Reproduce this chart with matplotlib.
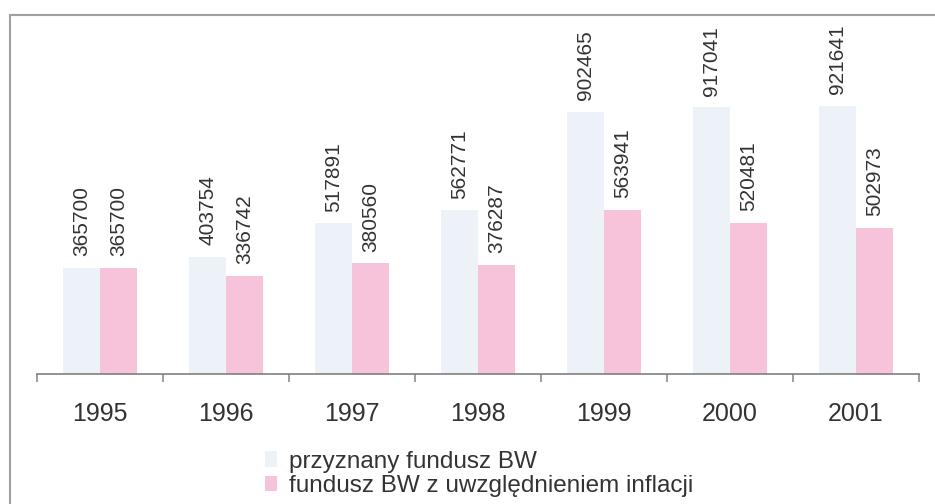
import matplotlib.pyplot as plt
import numpy as np
from matplotlib.patches import Rectangle

years = ["1995", "1996", "1997", "1998", "1999", "2000", "2001"]
granted = [365700, 403754, 517891, 562771, 902465, 917041, 921641]
inflation_adj = [365700, 336742, 380560, 376287, 563941, 520481, 502973]
series_names = ["przyznany fundusz BW", "fundusz BW z uwzględnieniem inflacji"]

plt.rcParams["font.family"] = ["Liberation Sans", "DejaVu Sans"]
text_color = "#333333"

fig = plt.figure(figsize=(9.35, 5.04), dpi=100)
ax = fig.add_axes([37 / 935, 130 / 504, 882 / 935, 359 / 504])

x = np.arange(len(years))
w = 0.293
b1 = ax.bar(x - w / 2, granted, w, color="#edf1f8", label=series_names[0])
b2 = ax.bar(x + w / 2, inflation_adj, w, color="#f6c3db", label=series_names[1])

for bars in (b1, b2):
    for rect in bars:
        h = rect.get_height()
        ax.annotate(f"{int(h)}", (rect.get_x() + rect.get_width() / 2, h),
                    xytext=(0, 8.5), textcoords="offset points",
                    rotation=90, ha="center", va="bottom",
                    fontsize=15, color=text_color)

ax.set_xlim(-0.5, len(years) - 0.5)
ax.set_ylim(0, 1.235e6)
for s in ("top", "right", "left"):
    ax.spines[s].set_visible(False)
ax.spines["bottom"].set_color("#808080")
ax.spines["bottom"].set_linewidth(1.2)
ax.set_yticks([])
ax.set_xticks(x)
ax.set_xticklabels(years, fontsize=18, color=text_color)
ax.tick_params(axis="x", which="major", length=0, pad=20)
ax.set_xticks(np.arange(len(years) + 1) - 0.5, minor=True)
ax.tick_params(axis="x", which="minor", length=6, width=1.1, color="#808080", direction="out")

fig.legend(handles=[b1, b2], loc="upper left", bbox_to_anchor=(255 / 935, 1 - 441 / 504),
           frameon=False, fontsize=17.5, handlelength=0.5, handleheight=0.6,
           handletextpad=0.5, labelspacing=0.1, borderaxespad=0, labelcolor=text_color)

frame = Rectangle((10 / 935, -0.1), 1.2, 1.1 - 15 / 504, transform=fig.transFigure,
                  fill=False, edgecolor="#a0a0a0", linewidth=1.5)
fig.patches.append(frame)

fig.savefig("out.png", dpi=100)
